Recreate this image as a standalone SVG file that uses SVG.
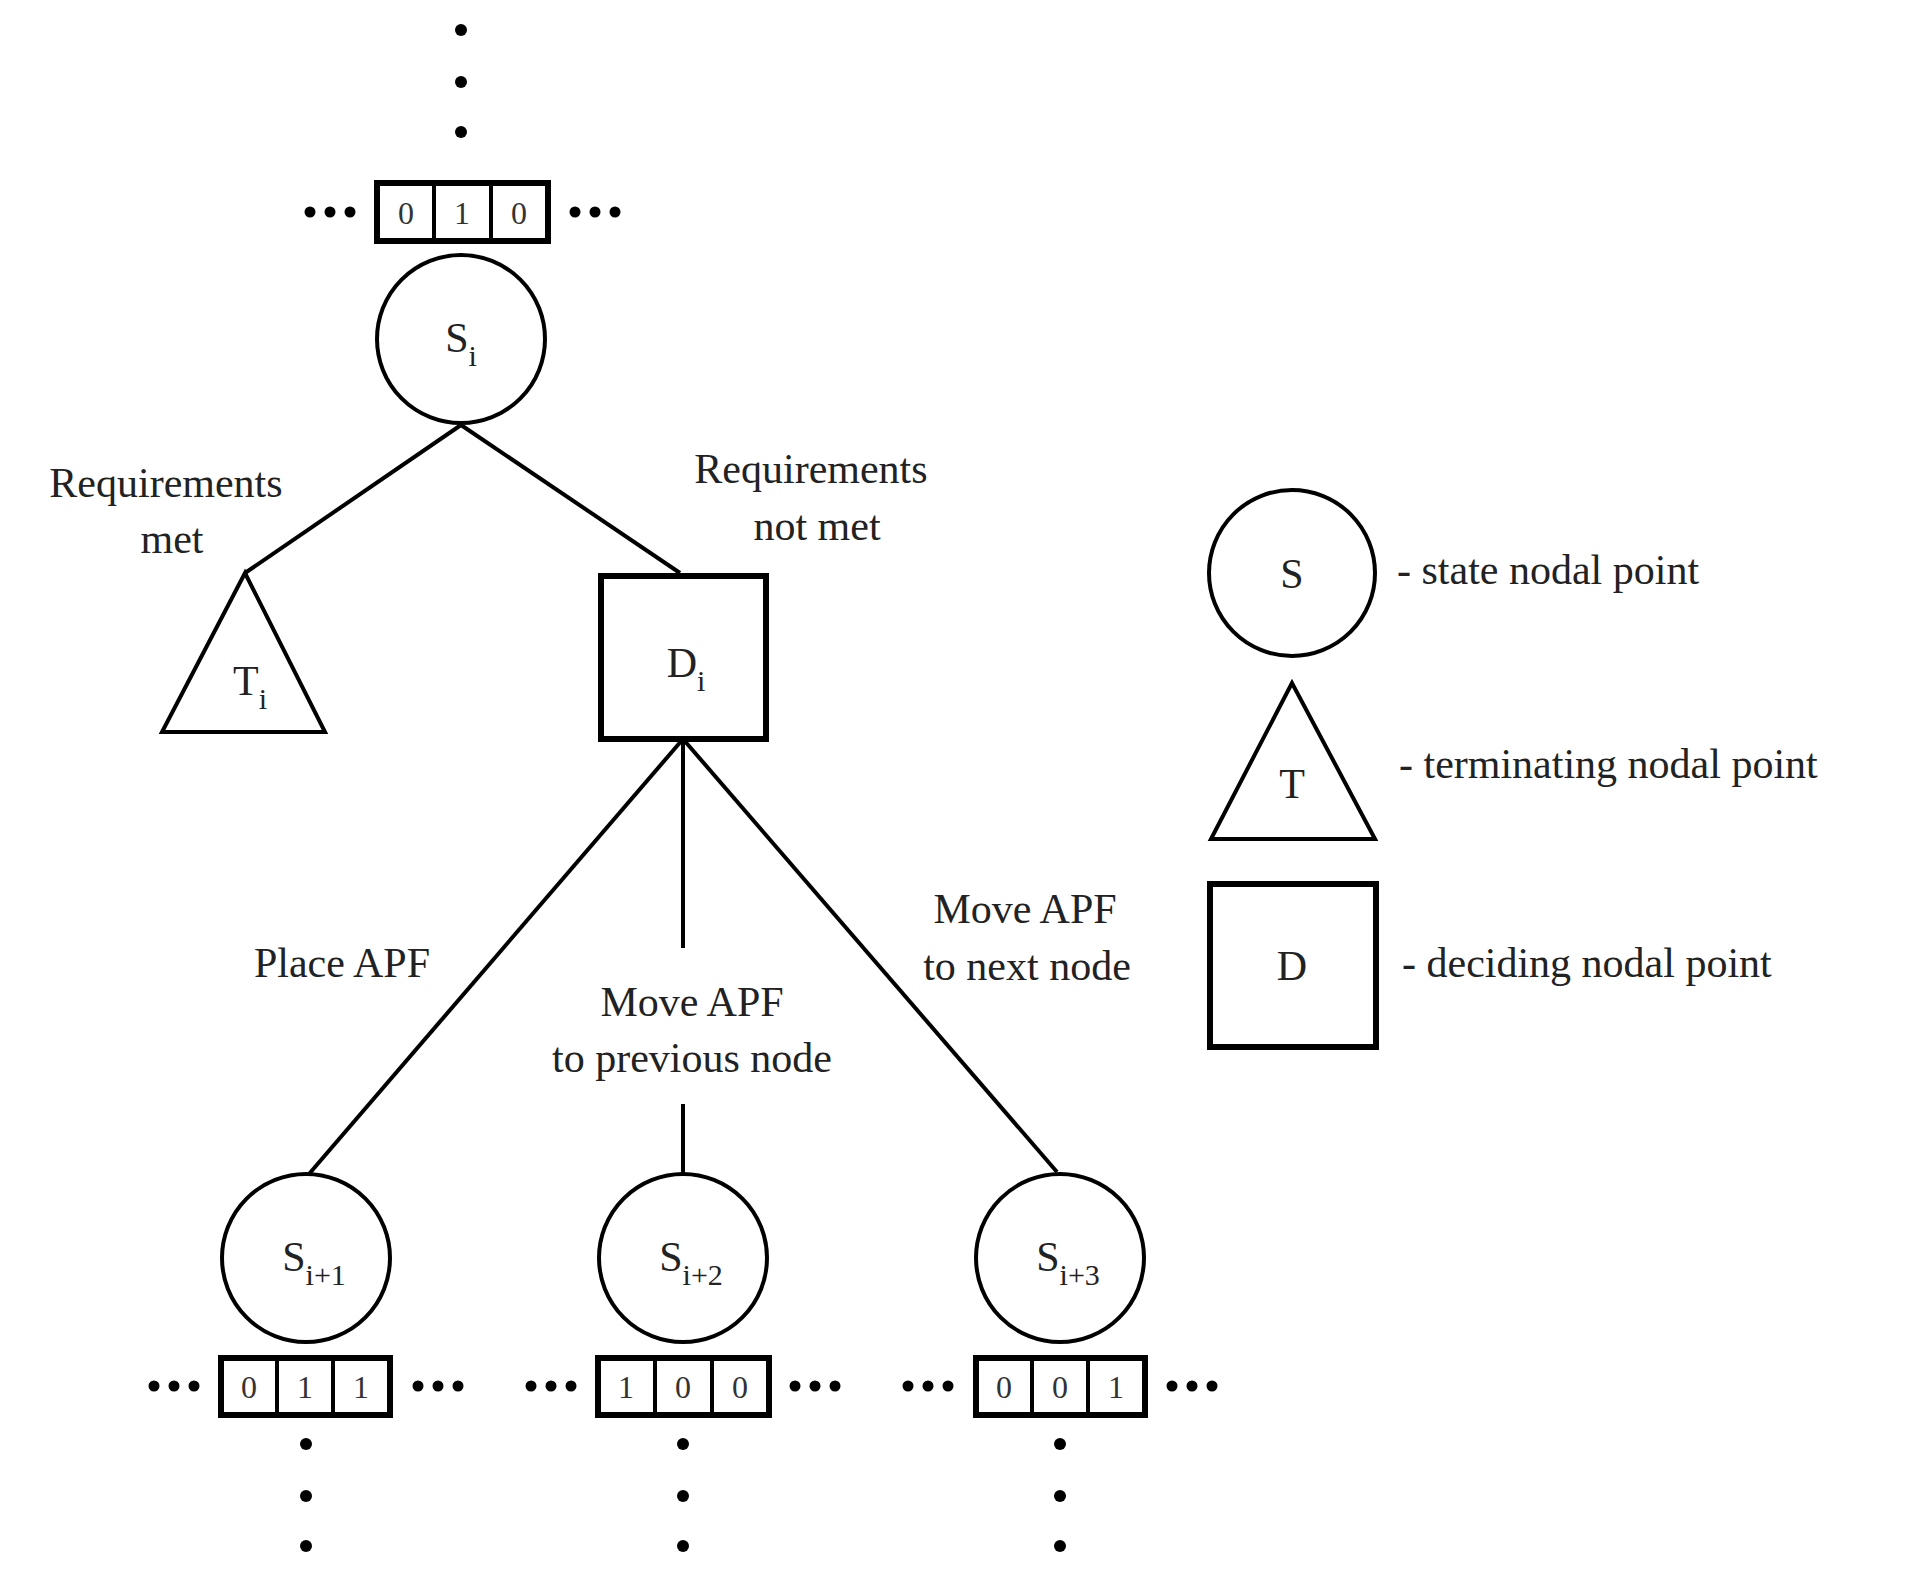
<svg xmlns="http://www.w3.org/2000/svg" width="1913" height="1581" viewBox="0 0 1913 1581">
<style>
.n{fill:#fff;stroke:#000;stroke-width:4}
.sq{fill:#fff;stroke:#000;stroke-width:6}
.e{stroke:#000;stroke-width:4;fill:none}
.t{font-family:"Liberation Serif",serif;font-size:42px;fill:#222;text-anchor:middle}
.l{font-family:"Liberation Serif",serif;font-size:42px;fill:#222}
.c{font-family:"Liberation Serif",serif;font-size:32px;fill:#333;text-anchor:middle}
.s{font-size:30px}
</style>
<defs>
<g id="dh"><circle cx="-40" cy="0" r="5.5"/><circle cx="-20" cy="0" r="5.5"/><circle cx="0" cy="0" r="5.5"/></g>
<g id="dv"><circle cx="0" cy="0" r="6"/><circle cx="0" cy="52" r="6"/><circle cx="0" cy="102" r="6"/></g>
</defs>
<g id="connectors">
<line class="e" x1="461" y1="425" x2="245" y2="573"/>
<line class="e" x1="461" y1="425" x2="680" y2="573"/>
<line class="e" x1="683" y1="739" x2="309" y2="1174"/>
<line class="e" x1="683" y1="739" x2="683" y2="948"/>
<line class="e" x1="683" y1="1104" x2="683" y2="1174"/>
<line class="e" x1="683" y1="739" x2="1057" y2="1172"/>
</g>
<g id="top-dots"><use href="#dv" x="461" y="30"/></g>
<g id="top-state">
<use href="#dh" x="350" y="212"/><use href="#dh" x="615" y="212"/>
<rect class="sq" x="377" y="183" width="171" height="58"/>
<line class="e" x1="434" y1="183" x2="434" y2="241"/><line class="e" x1="491" y1="183" x2="491" y2="241"/>
<text class="c" x="406" y="224">0</text><text class="c" x="462" y="224">1</text><text class="c" x="519" y="224">0</text>
</g>
<g id="Si"><circle class="n" cx="461" cy="339" r="84"/><text class="t" x="461" y="352">S<tspan class="s" dy="14">i</tspan></text></g>
<g id="Ti"><polygon class="n" points="245,573 162,732 325,732"/><text class="t" x="250" y="695">T<tspan class="s" dy="14">i</tspan></text></g>
<g id="Di"><rect class="sq" x="601" y="576" width="165" height="163"/><text class="t" x="686" y="677">D<tspan class="s" dy="14">i</tspan></text></g>
<g id="labels">
<text class="t" x="166" y="497">Requirements</text><text class="t" x="172" y="553">met</text>
<text class="t" x="811" y="483">Requirements</text><text class="t" x="817" y="540">not met</text>
<text class="t" x="342" y="977">Place APF</text>
<text class="t" x="692" y="1016">Move APF</text><text class="t" x="692" y="1072">to previous node</text>
<text class="t" x="1025" y="923">Move APF</text><text class="t" x="1027" y="980">to next node</text>
</g>
<g id="Si1"><circle class="n" cx="306" cy="1258" r="84"/><text class="t" x="314" y="1271">S<tspan class="s" dy="14">i+1</tspan></text>
<use href="#dh" x="194" y="1386"/><use href="#dh" x="458" y="1386"/>
<rect class="sq" x="221" y="1358" width="169" height="57"/>
<line class="e" x1="277" y1="1358" x2="277" y2="1415"/><line class="e" x1="333" y1="1358" x2="333" y2="1415"/>
<text class="c" x="249" y="1398">0</text><text class="c" x="305" y="1398">1</text><text class="c" x="361" y="1398">1</text>
<use href="#dv" x="306" y="1444"/></g>
<g id="Si2"><circle class="n" cx="683" cy="1258" r="84"/><text class="t" x="691" y="1271">S<tspan class="s" dy="14">i+2</tspan></text>
<use href="#dh" x="571" y="1386"/><use href="#dh" x="835" y="1386"/>
<rect class="sq" x="598" y="1358" width="171" height="57"/>
<line class="e" x1="655" y1="1358" x2="655" y2="1415"/><line class="e" x1="712" y1="1358" x2="712" y2="1415"/>
<text class="c" x="626" y="1398">1</text><text class="c" x="683" y="1398">0</text><text class="c" x="740" y="1398">0</text>
<use href="#dv" x="683" y="1444"/></g>
<g id="Si3"><circle class="n" cx="1060" cy="1258" r="84"/><text class="t" x="1068" y="1271">S<tspan class="s" dy="14">i+3</tspan></text>
<use href="#dh" x="948" y="1386"/><use href="#dh" x="1212" y="1386"/>
<rect class="sq" x="976" y="1358" width="169" height="57"/>
<line class="e" x1="1032" y1="1358" x2="1032" y2="1415"/><line class="e" x1="1088" y1="1358" x2="1088" y2="1415"/>
<text class="c" x="1004" y="1398">0</text><text class="c" x="1060" y="1398">0</text><text class="c" x="1116" y="1398">1</text>
<use href="#dv" x="1060" y="1444"/></g>
<g id="legend">
<circle class="n" cx="1292" cy="573" r="83"/><text class="t" x="1292" y="588">S</text>
<text class="l" x="1397" y="584">- state nodal point</text>
<polygon class="n" points="1292,683 1211,839 1375,839"/><text class="t" x="1292" y="798">T</text>
<text class="l" x="1399" y="778">- terminating nodal point</text>
<rect class="sq" x="1210" y="884" width="166" height="163"/><text class="t" x="1292" y="980">D</text>
<text class="l" x="1402" y="977">- deciding nodal point</text>
</g>
</svg>
